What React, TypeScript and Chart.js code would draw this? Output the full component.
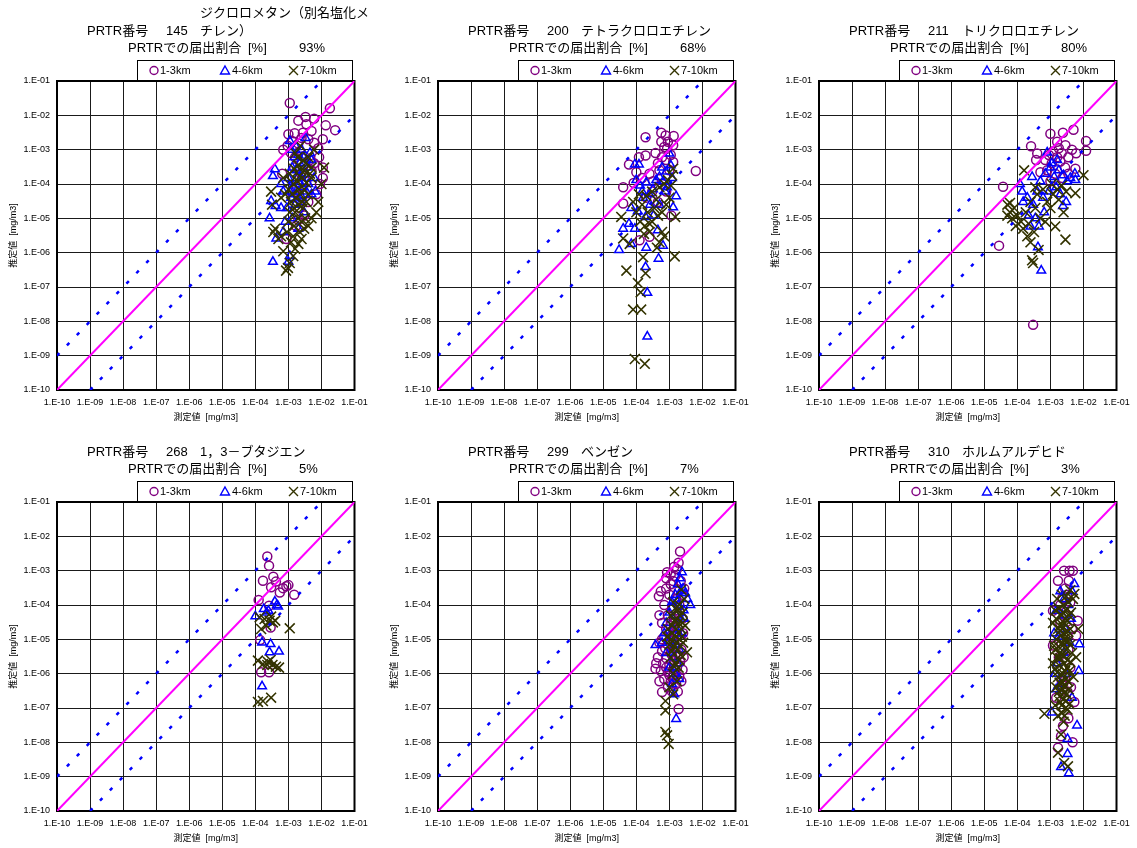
import React, { useEffect, useRef } from "react";
import { Chart, registerables } from "chart.js";

Chart.register(...registerables);

type Pt = [number, number];

// ---- axes ----
const AXIS_MIN = 1e-10;
const AXIS_MAX = 1e-1;
const TICK_VALUES = [1e-10, 1e-9, 1e-8, 1e-7, 1e-6, 1e-5, 1e-4, 1e-3, 1e-2, 1e-1];
const TICK_LABELS = ["1.E-10", "1.E-09", "1.E-08", "1.E-07", "1.E-06", "1.E-05", "1.E-04", "1.E-03", "1.E-02", "1.E-01"];
const X_TITLE = "測定値  [mg/m3]";
const Y_TITLE = "推定値  [mg/m3]";

// ---- reference lines: y = x, y = 10x, y = x/10 ----
const LINE_EQUAL: Pt[] = [[1e-10, 1e-10], [1e-1, 1e-1]];
const LINE_TIMES_10: Pt[] = [[1e-10, 1e-9], [1e-2, 1e-1]];
const LINE_TENTH: Pt[] = [[1e-9, 1e-10], [1e-1, 1e-2]];

// ---- panel headings ----
const SERIES_LABELS = ["1-3km", "4-6km", "7-10km"];
const PRTR_NUMBERS = ["145", "200", "211", "268", "299", "310"];
const SUBSTANCE_NAMES = [
  "ジクロロメタン（別名塩化メチレン）",
  "テトラクロロエチレン",
  "トリクロロエチレン",
  "1，3－ブタジエン",
  "ベンゼン",
  "ホルムアルデヒド",
];
const REPORT_SHARES = ["93%", "68%", "80%", "5%", "7%", "3%"];

// ---- 145 ジクロロメタン: [measured, estimated] mg/m3 ----
const DCM_1_3: Pt[] = [
  [1.1e-3, 2.3e-2], [1.8e-2, 1.6e-2], [2e-3, 7e-3], [3.3e-3, 9e-3], [6e-3, 8e-3], [1.35e-2, 5.1e-3],
  [2.6e-2, 3.7e-3], [3.5e-3, 5.5e-3], [5e-3, 3.5e-3], [1e-3, 2.8e-3], [1.55e-3, 3e-3], [2.75e-3, 3.1e-3],
  [1.1e-2, 2e-3], [1.1e-2, 3e-4], [1.1e-2, 1.5e-4], [7e-3, 5e-5], [9.5e-4, 1.3e-3], [7e-4, 1e-3],
  [1.3e-3, 1.8e-3], [2e-3, 1.5e-3], [2.5e-3, 2.2e-3], [4e-3, 2e-3], [6e-3, 1.6e-3], [8e-3, 1.1e-3],
  [1.2e-3, 8e-4], [1.6e-3, 6e-4], [2.2e-3, 9e-4], [3e-3, 6.5e-4], [4.5e-3, 5e-4], [6e-3, 4e-4],
  [8.5e-3, 6e-4], [1.5e-3, 3e-4], [2.4e-3, 2e-4], [3.5e-3, 1.2e-4], [5e-3, 2.5e-4], [1.8e-3, 8e-5],
  [2.8e-3, 5e-5], [4e-3, 3e-5], [1.3e-3, 4e-5], [2.2e-3, 2e-5], [3e-3, 1.2e-5], [2e-3, 9e-6],
  [1.7e-3, 6e-6], [8.7e-4, 2.5e-6], [6.5e-4, 2e-4], [9e-3, 1e-4],
];
const DCM_4_6: Pt[] = [
  [1.1e-3, 1.8e-3], [3.3e-3, 2.2e-3], [3.9e-4, 2.7e-4], [3.4e-4, 1.7e-4], [3e-4, 3.2e-5], [4.1e-4, 2.3e-5],
  [2.7e-4, 1e-5], [4.3e-4, 2.6e-6], [3.4e-4, 5.4e-7], [1.1e-3, 8e-7], [1e-3, 5.4e-7], [6e-4, 1e-4],
  [7e-4, 6e-5], [6e-3, 1.5e-4], [6.5e-3, 6e-5], [5e-3, 5e-5], [2.5e-3, 1.5e-4], [1.2e-3, 1e-3],
  [1.5e-3, 6e-4], [2e-3, 7e-4], [2.5e-3, 1e-3], [3e-3, 4e-4], [1.3e-3, 3e-4], [1.8e-3, 2.5e-4],
  [2.2e-3, 4e-4], [3.8e-3, 3e-4], [4.5e-3, 8e-4], [1e-3, 1.5e-4], [1.4e-3, 9e-5], [2e-3, 6e-5],
  [2.7e-3, 8e-5], [3.2e-3, 2e-4], [1.2e-3, 4e-5], [1.6e-3, 2.5e-5], [2.4e-3, 3e-5], [3e-3, 1.5e-5],
  [9e-4, 2e-5], [8e-4, 8e-6], [1.3e-3, 1e-5], [2e-3, 5e-6], [6e-4, 2e-5], [7e-4, 4e-6],
  [5e-3, 5e-4], [4e-3, 1e-4], [1.8e-3, 1.5e-4], [2.6e-3, 4e-5], [1.5e-3, 5e-5], [3.5e-3, 6e-5],
  [2.2e-3, 1e-4], [1.7e-3, 1.2e-3], [2.9e-3, 6e-4], [1.1e-3, 6e-5],
];
const DCM_7_10: Pt[] = [
  [9.7e-4, 3.6e-7], [8.5e-4, 3e-7], [1.1e-3, 5e-7], [1.4e-3, 8e-7], [1.6e-3, 1.3e-6], [7e-4, 1.1e-6],
  [5e-4, 2.5e-6], [3.5e-4, 4e-6], [4e-4, 5e-6], [6e-4, 3e-6], [3.2e-4, 2.5e-5], [3e-4, 6e-5],
  [1.2e-2, 3e-4], [1e-2, 1e-4], [8e-3, 3e-5], [7e-3, 1.5e-5], [5e-3, 1e-5], [4e-3, 6e-6],
  [2.5e-3, 2.5e-6], [2e-3, 1.8e-6], [1.2e-3, 2e-6], [9e-4, 4e-6], [1e-3, 8e-6], [1.5e-3, 6e-6],
  [2e-3, 1e-5], [2.5e-3, 8e-6], [3e-3, 5e-6], [1.1e-3, 1.5e-5], [1.5e-3, 2e-5], [2e-3, 2.5e-5],
  [2.8e-3, 2e-5], [3.5e-3, 3e-5], [1.2e-3, 3e-5], [1.7e-3, 4e-5], [2.3e-3, 5e-5], [3e-3, 7e-5],
  [4e-3, 5e-5], [8e-4, 5e-5], [1e-3, 7e-5], [1.4e-3, 1e-4], [1.9e-3, 1.2e-4], [2.6e-3, 1.5e-4],
  [3.5e-3, 1.1e-4], [5e-3, 1.5e-4], [1.1e-3, 2e-4], [1.5e-3, 2.8e-4], [2e-3, 3.5e-4], [2.8e-3, 5e-4],
  [4e-3, 6e-4], [6e-3, 1e-3], [1.6e-3, 8e-4], [5e-3, 3e-4], [7e-4, 1.5e-4], [6e-4, 4e-5],
  [2.3e-3, 1.3e-3], [1.3e-3, 5e-5], [2.1e-3, 7e-5], [2.6e-3, 3e-5], [1.6e-3, 1.5e-5], [3.2e-3, 1e-5],
  [1.8e-3, 2.2e-4], [2.4e-3, 2.5e-4], [3.3e-3, 4e-4], [1.2e-3, 1.2e-4], [2.2e-3, 1.7e-4], [3e-3, 2.5e-4],
  [1.9e-3, 6e-4], [4.5e-3, 2e-4], [1.4e-3, 3e-6], [2.2e-3, 4e-6],
];

// ---- 200 テトラクロロエチレン ----
const PCE_1_3: Pt[] = [
  [1.9e-4, 2.3e-3], [5.7e-4, 3.1e-3], [7.7e-4, 2.6e-3], [1.35e-3, 2.5e-3], [5.7e-4, 1.7e-3], [1.3e-3, 1.35e-3],
  [8.5e-4, 1.07e-3], [1.9e-4, 6.8e-4], [6e-5, 3.7e-4], [8.3e-5, 1.07e-4], [4e-5, 8e-5], [4e-5, 2.7e-5],
  [6.3e-3, 2.4e-4], [1.3e-3, 4.4e-4], [1.15e-3, 1.2e-5], [2.5e-4, 2.9e-6], [1.25e-4, 2.3e-6], [6e-4, 6e-4],
  [4.5e-4, 4e-4], [8e-4, 5e-4], [1.1e-3, 7e-4], [5e-4, 2.5e-4], [2.5e-4, 2e-4], [3.2e-4, 1.2e-4],
  [6e-4, 1e-4], [8e-4, 6e-5], [1e-4, 2.2e-4], [1.5e-4, 1.5e-4], [3e-4, 6e-5], [2e-4, 4e-5],
  [4.5e-4, 3e-5], [1e-3, 2.5e-4], [1.2e-4, 6e-4], [3.8e-4, 8e-4], [7e-4, 1.2e-3], [9e-4, 1.7e-3],
];
const PCE_4_6: Pt[] = [
  [9e-5, 3.7e-4], [1.2e-4, 3.7e-4], [1e-3, 7.7e-4], [1.6e-3, 4.4e-5], [1.3e-3, 2.1e-5], [4e-5, 5e-6],
  [3e-5, 1.2e-6], [4.5e-4, 4.5e-6], [6.4e-4, 1.6e-6], [4.7e-4, 6.7e-7], [2e-4, 1.4e-6], [1.9e-4, 3.8e-7],
  [2.15e-4, 6.8e-8], [2.15e-4, 3.6e-9], [7e-5, 1.8e-6], [1e-4, 1.3e-4], [1.3e-4, 9e-5], [2e-4, 1.1e-4],
  [4e-4, 1.3e-4], [5e-4, 1.6e-4], [6.5e-4, 1.2e-4], [3.2e-4, 7e-5], [1.6e-4, 4e-5], [2.6e-4, 2.5e-5],
  [7e-5, 2e-5], [1.1e-4, 1.6e-5], [1.9e-4, 1.1e-5], [6e-5, 7e-6], [9e-5, 5e-6], [3.3e-4, 1.2e-5],
  [5e-4, 2.5e-5], [7.5e-4, 6e-5], [8.5e-4, 8e-5], [1.2e-3, 1.5e-4], [8e-4, 2.3e-4], [1.1e-3, 3.5e-4],
  [6e-4, 3e-4], [1.5e-4, 6e-5], [2.5e-4, 5e-5],
];
const PCE_7_10: Pt[] = [
  [5e-5, 3e-7], [1.12e-4, 1.3e-7], [1.35e-4, 7e-8], [8e-5, 2.2e-8], [1.4e-4, 2.2e-8], [9e-5, 8e-10],
  [1.8e-4, 5.8e-10], [1.9e-4, 2.5e-7], [1.6e-4, 7.4e-7], [1.45e-3, 7.8e-7], [6.3e-5, 1.8e-6], [3.5e-5, 1.1e-5],
  [4e-5, 2.6e-6], [5e-4, 2e-6], [4.2e-4, 1.4e-6], [6e-4, 4e-6], [7e-4, 3e-6], [1.3e-3, 2.8e-4],
  [1.2e-3, 1.8e-4], [1.5e-3, 1.1e-5], [8e-5, 3e-5], [1e-4, 1.5e-5], [1.3e-4, 8e-6], [1.8e-4, 6e-6],
  [2.5e-4, 4e-6], [3e-4, 8e-6], [2.2e-4, 1.5e-5], [1.5e-4, 2.5e-5], [3.5e-4, 2e-5], [4.5e-4, 1.2e-5],
  [6e-4, 1.5e-5], [8e-4, 2.5e-5], [1e-3, 4e-5], [2e-4, 4.5e-5], [3e-4, 6e-5], [5e-4, 8e-5],
  [7e-4, 1e-4], [9e-4, 1.3e-4], [1.1e-3, 9e-5], [4e-4, 3.5e-5], [1.2e-4, 5e-5], [1.7e-4, 3.5e-6],
  [2.5e-4, 7e-6],
];

// ---- 211 トリクロロエチレン ----
const TCE_1_3: Pt[] = [
  [5e-3, 3.8e-3], [2.4e-3, 3.1e-3], [1e-3, 2.9e-3], [1.6e-3, 1.7e-3], [2.85e-3, 1.35e-3], [1.2e-2, 1.8e-3],
  [1.2e-2, 9.3e-4], [6e-3, 7.8e-4], [2.6e-4, 1.26e-3], [4e-4, 7.7e-4], [3.7e-4, 5e-4], [3.7e-5, 8.3e-5],
  [2.8e-5, 1.6e-6], [3e-4, 7.9e-9], [5.7e-3, 2.8e-4], [9e-4, 7e-4], [1.2e-3, 9e-4], [1.8e-3, 1.1e-3],
  [2.2e-3, 8e-4], [1.6e-3, 6e-4], [7e-4, 5e-4], [1.1e-3, 4e-4], [2e-3, 4.5e-4], [2.8e-3, 3e-4],
  [8e-4, 2.5e-4], [1.4e-3, 2e-4], [2.3e-3, 1.5e-4], [3.5e-3, 2e-4], [5e-4, 2.2e-4], [1e-3, 1.2e-4],
  [3.5e-3, 6e-4], [4.5e-3, 1e-3],
];
const TCE_4_6: Pt[] = [
  [8e-4, 8.3e-4], [5.7e-3, 1.3e-4], [5.5e-3, 2e-4], [2.4e-3, 2.3e-5], [4.2e-4, 1.45e-6], [5.3e-4, 3e-7],
  [2.5e-4, 5.8e-6], [4.5e-4, 5.8e-6], [1.2e-4, 1e-4], [1.4e-4, 6e-5], [2.8e-4, 1.6e-4], [5e-4, 1.2e-4],
  [7e-4, 2e-4], [1e-3, 3e-4], [1.3e-3, 1.6e-4], [1.8e-3, 2.5e-4], [2.5e-3, 1.8e-4], [3.2e-3, 1.2e-4],
  [4e-3, 1.5e-4], [1.5e-4, 3e-5], [3e-4, 2.5e-5], [6e-4, 4e-5], [9e-4, 6e-5], [1.5e-3, 8e-5],
  [2e-3, 5e-5], [3e-3, 3e-5], [2.2e-4, 1.2e-5], [3.5e-4, 1e-5], [6.5e-4, 1.5e-5], [1.1e-3, 4e-4],
  [1.6e-3, 5e-4], [2e-4, 4e-5], [4e-4, 6e-5],
];
const TCE_7_10: Pt[] = [
  [1e-2, 1.8e-4], [5.7e-3, 5.4e-5], [2.85e-3, 2.4e-6], [1.6e-4, 2.5e-4], [5e-5, 2.5e-5], [6e-5, 1.5e-5],
  [8e-5, 2e-5], [1e-4, 1.2e-5], [1.3e-4, 8e-6], [7e-5, 1e-5], [9e-5, 6e-6], [1.5e-4, 5e-6],
  [2.8e-4, 6e-7], [3e-4, 5e-7], [4.4e-4, 1.2e-6], [1.4e-3, 5.8e-6], [2e-4, 3e-6], [2.5e-4, 2e-6],
  [1.8e-4, 1.5e-5], [2.5e-4, 3e-5], [3.5e-4, 2e-5], [5e-4, 1e-5], [7e-4, 8e-6], [1e-3, 2e-5],
  [4e-4, 5e-5], [6e-4, 7e-5], [8e-4, 3e-5], [1.2e-3, 5e-5], [1.6e-3, 7e-5], [2.2e-3, 9e-5],
  [3e-3, 6e-5], [1.8e-3, 3.5e-5], [2.5e-3, 1.5e-5], [1.1e-3, 1e-4], [3.5e-4, 8e-5], [5e-5, 1.2e-5],
  [6e-5, 2.8e-5], [2.2e-4, 7e-6], [3.2e-4, 4e-6],
];

// ---- 268 1,3-ブタジエン ----
const BD_1_3: Pt[] = [
  [2.3e-4, 2.6e-3], [2.6e-4, 1.4e-3], [1.7e-4, 5.1e-4], [3.5e-4, 6.7e-4], [4.2e-4, 4.8e-4], [3e-4, 3.3e-4],
  [5.5e-4, 2.3e-4], [6.9e-4, 3.1e-4], [8.7e-4, 3.5e-4], [1e-3, 3.8e-4], [1.5e-3, 2e-4], [1.26e-4, 1.4e-4],
  [2.6e-4, 9.5e-5], [2.9e-4, 2.2e-5], [1.4e-4, 9.5e-6], [1.5e-4, 1.1e-6], [2.6e-4, 1.1e-6],
];
const BD_4_6: Pt[] = [
  [3.9e-4, 1.26e-4], [4.9e-4, 9.1e-5], [1.8e-4, 7.6e-5], [2.5e-4, 6.8e-5], [1e-4, 4.7e-5], [1.6e-4, 8.1e-6],
  [2.9e-4, 7.3e-6], [2.7e-4, 4.2e-6], [5.2e-4, 4.4e-6], [1.6e-4, 4.3e-7], [4.5e-4, 1e-4], [2.2e-4, 6e-5],
];
const BD_7_10: Pt[] = [
  [1.35e-4, 4.4e-5], [1.9e-4, 3.9e-5], [2.7e-4, 3.5e-5], [3.4e-4, 3.1e-5], [2.15e-4, 2.5e-5], [1.5e-4, 2e-5],
  [3e-4, 4.6e-5], [1.1e-3, 2.1e-5], [1.2e-4, 2.4e-6], [1.7e-4, 1.9e-6], [2.4e-4, 2.2e-6], [3.3e-4, 1.8e-6],
  [4.2e-4, 1.6e-6], [5.2e-4, 1.5e-6], [2.9e-4, 2.5e-6], [1.2e-4, 1.5e-7], [1.7e-4, 1.6e-7], [3e-4, 2e-7],
  [4e-4, 3.5e-5], [2.3e-4, 1.8e-6],
];

// ---- 299 ベンゼン ----
const BZ_1_3: Pt[] = [
  [2.1e-3, 3.6e-3], [1.9e-3, 1.7e-3], [8.5e-4, 9e-4], [1.1e-3, 8e-4], [1.5e-3, 7e-4], [1.3e-3, 5e-4],
  [2.2e-3, 5e-4], [4.8e-4, 1.8e-4], [5.5e-4, 2.5e-4], [8e-4, 3e-4], [1e-3, 2e-4], [1.6e-3, 1.5e-4],
  [2.5e-3, 2e-4], [7e-4, 1e-4], [1.2e-3, 8e-5], [2e-3, 6e-5], [9e-4, 5e-5], [1.5e-3, 4e-5],
  [6e-4, 3e-5], [1.1e-3, 2.5e-5], [1.8e-3, 2e-5], [2.6e-3, 1.5e-5], [7e-4, 1.2e-5], [1.3e-3, 1e-5],
  [5e-4, 8e-6], [9e-4, 7e-6], [1.6e-3, 6e-6], [2.3e-3, 5e-6], [6e-4, 4.5e-6], [1.1e-3, 4e-6],
  [1.9e-3, 3.5e-6], [4.5e-4, 3e-6], [8e-4, 2.8e-6], [1.4e-3, 2.5e-6], [2.1e-3, 2.2e-6], [3.8e-4, 1.4e-6],
  [6.5e-4, 2e-6], [1e-3, 1.8e-6], [1.7e-3, 1.5e-6], [2.5e-3, 1.3e-6], [5.5e-4, 1.2e-6], [9e-4, 1.1e-6],
  [1.3e-3, 9e-7], [2e-3, 8e-7], [7e-4, 7e-7], [1.1e-3, 6e-7], [1.6e-3, 5e-7], [6e-4, 2.9e-7],
  [9e-4, 4e-7], [1.2e-3, 3e-7], [1.9e-3, 9.3e-8], [1e-3, 1.6e-5], [1.4e-3, 3e-5], [2e-3, 1e-4],
  [8e-4, 6e-4], [1.7e-3, 1.1e-3], [1.4e-3, 1.3e-3], [2.8e-3, 3e-4], [1.2e-3, 3.5e-6], [7.5e-4, 5.5e-6],
  [5e-4, 5e-5], [8e-4, 2e-5], [1.5e-3, 1.5e-5], [2.2e-3, 1e-5], [6e-4, 1e-5], [1.2e-3, 5.5e-6],
  [2.7e-3, 3e-6], [4e-4, 2e-6], [1.5e-3, 1.2e-6], [2.3e-3, 6e-7], [8e-4, 1.5e-6], [1.4e-3, 7e-7],
  [5e-4, 6e-7], [1e-3, 9e-7], [1.8e-3, 3e-7], [2.5e-3, 4e-5], [1.9e-3, 2.5e-4], [1.1e-3, 4e-4],
];
const BZ_4_6: Pt[] = [
  [2.4e-3, 9e-4], [2.1e-3, 6e-4], [1.8e-3, 4e-4], [2.6e-3, 3e-4], [4.3e-3, 1e-4], [3.5e-3, 1.5e-4],
  [3e-3, 2.2e-4], [1.5e-3, 2e-4], [1.2e-3, 1.2e-4], [1.9e-3, 1e-4], [2.7e-3, 7e-5], [1e-3, 6e-5],
  [1.6e-3, 5e-5], [2.2e-3, 4e-5], [8e-4, 3e-5], [1.3e-3, 2e-5], [1.9e-3, 1.5e-5], [3.8e-4, 6.8e-6],
  [6e-4, 8e-6], [1e-3, 9e-6], [1.5e-3, 7e-6], [2e-3, 5e-6], [8e-4, 4e-6], [1.3e-3, 3e-6],
  [1.8e-3, 2e-6], [1e-3, 1.5e-6], [1.5e-3, 1e-6], [2e-3, 7e-7], [1.2e-3, 5e-7], [1.6e-3, 4.8e-8],
  [1.4e-3, 2.5e-7], [2.4e-3, 1.5e-5], [2.8e-3, 4e-5], [7e-4, 1.5e-5], [1.7e-3, 1.3e-4], [2.2e-3, 2.5e-4],
];
const BZ_7_10: Pt[] = [
  [7.6e-4, 1.6e-7], [7.6e-4, 8.5e-8], [7.6e-4, 2e-8], [8.5e-4, 1.6e-8], [9.5e-4, 9e-9], [3e-3, 2.5e-5],
  [3.4e-3, 4.2e-6], [2.5e-3, 6e-5], [2e-3, 1e-4], [2.8e-3, 1.5e-4], [1.5e-3, 8e-5], [1.1e-3, 5e-5],
  [1.4e-3, 3.5e-5], [1.9e-3, 3e-5], [2.3e-3, 2e-5], [9e-4, 2e-5], [1.2e-3, 1.5e-5], [1.6e-3, 1.2e-5],
  [2e-3, 1e-5], [2.6e-3, 8e-6], [1e-3, 7e-6], [1.4e-3, 6e-6], [1.8e-3, 5e-6], [2.2e-3, 3.5e-6],
  [1.1e-3, 3e-6], [1.5e-3, 2e-6], [1.9e-3, 1.5e-6], [1.3e-3, 1e-6], [1.7e-3, 6e-7], [1e-3, 4e-7],
  [1.3e-3, 2.5e-7], [8.5e-4, 1.2e-5], [1.2e-3, 2.5e-5], [1.7e-3, 4e-5], [2.1e-3, 5e-5], [1.6e-3, 2e-5],
  [1.1e-3, 1e-5], [2.4e-3, 1.2e-5], [1.3e-3, 1.2e-4], [1.8e-3, 7e-5], [2.3e-3, 2.8e-4], [1.7e-3, 8e-6],
  [1.2e-3, 4.5e-6], [2e-3, 2.5e-6], [2.5e-3, 3e-5], [1.4e-3, 1.6e-6],
];

// ---- 310 ホルムアルデヒド ----
const HCHO_1_3: Pt[] = [
  [2.6e-3, 1e-3], [3.8e-3, 1e-3], [4.8e-3, 1e-3], [1.7e-3, 5.1e-4], [3.6e-3, 5.1e-4], [2.3e-3, 1.6e-4],
  [1.2e-3, 6.8e-5], [6.7e-3, 3.5e-5], [6e-3, 1.3e-5], [1.2e-3, 6.6e-6], [5.3e-3, 1.5e-7], [2.1e-3, 1.5e-8],
  [1.7e-3, 7e-9], [4.7e-3, 1e-8], [2.8e-3, 3e-4], [3.2e-3, 2e-4], [2e-3, 1e-4], [4e-3, 1.2e-4],
  [3e-3, 5e-5], [2e-3, 3e-5], [4.5e-3, 2e-5], [2.5e-3, 1e-5], [3.5e-3, 5e-6], [1.8e-3, 3e-6],
  [4e-3, 1.5e-6], [2.8e-3, 8e-7], [3.3e-3, 3e-7], [2.2e-3, 6e-7], [4.2e-3, 4e-7], [1.5e-3, 2e-7],
  [3.5e-3, 5e-8], [2.4e-3, 3e-8],
];
const HCHO_4_6: Pt[] = [
  [5.3e-3, 4.1e-4], [1.5e-3, 6.8e-5], [7.5e-3, 7.2e-6], [7.2e-3, 1.2e-6], [1.5e-3, 3.5e-7], [1.1e-3, 7.4e-8],
  [6.4e-3, 3.1e-8], [3.3e-3, 1.26e-8], [3.3e-3, 4.6e-9], [2.1e-3, 1.9e-9], [3.6e-3, 1.26e-9], [2.6e-3, 1.5e-4],
  [3.5e-3, 1e-4], [2.3e-3, 5e-5], [4.2e-3, 4e-5], [2.8e-3, 2e-5], [1.8e-3, 1.2e-5], [3.8e-3, 8e-6],
  [2.5e-3, 4e-6], [1.6e-3, 2e-6], [3e-3, 1e-6], [2e-3, 5e-7], [4.5e-3, 2e-7], [1.4e-3, 1e-6],
  [4.5e-3, 2.5e-4], [2e-3, 2.5e-4], [1.3e-3, 1.5e-5],
];
const HCHO_7_10: Pt[] = [
  [5.3e-3, 2.1e-4], [6.6e-4, 6.8e-8], [2.1e-3, 1.7e-8], [1.7e-3, 5e-9], [2.6e-3, 2.5e-9], [3.4e-3, 2e-9],
  [4.8e-3, 1.5e-4], [3.5e-3, 1.2e-4], [2.5e-3, 1e-4], [1.8e-3, 8e-5], [3e-3, 7e-5], [4.2e-3, 6e-5],
  [2.2e-3, 5e-5], [1.5e-3, 4e-5], [3.3e-3, 3.5e-5], [2.6e-3, 3e-5], [1.9e-3, 2.5e-5], [4e-3, 2e-5],
  [2.9e-3, 1.6e-5], [2.1e-3, 1.3e-5], [1.5e-3, 1e-5], [3.5e-3, 9e-6], [2.5e-3, 7e-6], [1.8e-3, 6e-6],
  [3e-3, 5e-6], [4.5e-3, 4e-6], [2.2e-3, 3.5e-6], [1.6e-3, 3e-6], [3.3e-3, 2.5e-6], [2.7e-3, 2e-6],
  [1.9e-3, 1.7e-6], [1.4e-3, 1.4e-6], [3.8e-3, 1.2e-6], [2.4e-3, 1e-6], [1.7e-3, 8e-7], [3e-3, 7e-7],
  [2.1e-3, 5e-7], [1.5e-3, 4e-7], [3.6e-3, 3.5e-7], [2.6e-3, 2.8e-7], [1.9e-3, 2.2e-7], [2.9e-3, 1.6e-7],
  [2.2e-3, 1.2e-7], [3.3e-3, 9e-8], [1.7e-3, 6e-8], [2.5e-3, 4e-8], [7e-3, 2e-5], [6e-3, 3e-6],
  [5e-3, 8e-7], [1.2e-3, 3e-5], [1.2e-3, 2e-6], [2.8e-3, 4e-5], [2e-3, 1.8e-5], [3.1e-3, 1.2e-5],
  [2.3e-3, 8e-6], [2e-3, 2.8e-6], [3.2e-3, 1.5e-6], [2.2e-3, 6e-7], [2.8e-3, 4.5e-7], [1.8e-3, 3e-7],
  [2.5e-3, 1.8e-7], [1.4e-3, 1.2e-7], [2.7e-3, 6e-8], [1.3e-3, 6.5e-6], [4e-3, 2.7e-4],
  [1.6e-3, 1.5e-4], [2.2e-3, 2e-4], [3e-3, 1.8e-4], [1.4e-3, 7e-5], [2.4e-3, 6e-5], [3.6e-3, 5e-5],
  [1.7e-3, 2e-5], [2.5e-3, 2.2e-5], [3.4e-3, 1.7e-5], [1.4e-3, 5e-6], [2.8e-3, 9e-6], [4e-3, 7e-6],
  [1.9e-3, 4e-6], [2.6e-3, 3.3e-6], [4e-3, 2.2e-6], [1.6e-3, 1.1e-6], [2.8e-3, 1.2e-6], [3.4e-3, 6e-7],
  [1.9e-3, 5.5e-7], [2.4e-3, 3.5e-7], [3.1e-3, 2.5e-7], [2e-3, 1.5e-7], [3.8e-3, 1.3e-7], [2.9e-3, 1e-7],
  [2.2e-3, 7e-8],
];

const PANEL_SERIES: Pt[][][] = [
  [DCM_1_3, DCM_4_6, DCM_7_10],
  [PCE_1_3, PCE_4_6, PCE_7_10],
  [TCE_1_3, TCE_4_6, TCE_7_10],
  [BD_1_3, BD_4_6, BD_7_10],
  [BZ_1_3, BZ_4_6, BZ_7_10],
  [HCHO_1_3, HCHO_4_6, HCHO_7_10],
];

// ---- styling ----
const FONT = '"Liberation Sans", "Noto Sans CJK JP", sans-serif';
const COLOR_NEAR = "#800080";
const COLOR_MID = "#0000FF";
const COLOR_FAR = "#333300";
const CANVAS_W = 381;
const CANVAS_H = 424;
const ROW_STEP = 421;

const toXY = (pts: Pt[]) => pts.map(([x, y]) => ({ x, y }));

function wrapChars(ctx: CanvasRenderingContext2D, text: string, maxWidth: number): string[] {
  const lines: string[] = [];
  let cur = "";
  for (const ch of Array.from(text)) {
    if (cur && ctx.measureText(cur + ch).width > maxWidth) {
      lines.push(cur);
      cur = ch;
    } else {
      cur += ch;
    }
  }
  if (cur) lines.push(cur);
  return lines;
}

// plot frame, drawn over the grid and under the markers
const framePlugin = {
  id: "plotFrame",
  beforeDatasetsDraw(chart: any) {
    const { ctx, chartArea } = chart;
    const { left, top, right, bottom } = chartArea;
    ctx.save();
    ctx.strokeStyle = "#000";
    ctx.lineWidth = 2;
    ctx.strokeRect(left, top, right - left, bottom - top);
    ctx.restore();
  },
};

function headerPlugin(i: number) {
  return {
    id: "panelHeader",
    afterDraw(chart: any) {
      const ctx: CanvasRenderingContext2D = chart.ctx;
      ctx.save();
      ctx.fillStyle = "#000";
      ctx.textAlign = "left";
      ctx.textBaseline = "middle";
      ctx.font = `13px ${FONT}`;
      const rowY = 31;
      ctx.fillText("PRTR番号", 87, rowY);
      ctx.fillText(PRTR_NUMBERS[i], 166, rowY);
      const nameLines = wrapChars(ctx, SUBSTANCE_NAMES[i], 170);
      nameLines.forEach((ln, k) => {
        ctx.fillText(ln, 200, rowY - (nameLines.length - 1 - k) * 17.5);
      });
      ctx.fillText("PRTRでの届出割合", 128, 48);
      ctx.fillText("[%]", 248, 48);
      ctx.fillText(REPORT_SHARES[i], 299, 48);

      // legend box
      ctx.fillStyle = "#fff";
      ctx.fillRect(137.5, 60.5, 215, 20);
      ctx.strokeStyle = "#000";
      ctx.lineWidth = 1;
      ctx.strokeRect(137.5, 60.5, 215, 20);
      const ly = 70.5;
      ctx.lineWidth = 1.4;
      // circle
      ctx.strokeStyle = COLOR_NEAR;
      ctx.beginPath();
      ctx.arc(154, ly, 4, 0, Math.PI * 2);
      ctx.stroke();
      // triangle
      ctx.strokeStyle = COLOR_MID;
      ctx.beginPath();
      ctx.moveTo(225, ly - 4.5);
      ctx.lineTo(229.5, ly + 3.5);
      ctx.lineTo(220.5, ly + 3.5);
      ctx.closePath();
      ctx.stroke();
      // cross
      ctx.strokeStyle = COLOR_FAR;
      ctx.beginPath();
      ctx.moveTo(289, ly - 4.5);
      ctx.lineTo(298, ly + 4.5);
      ctx.moveTo(298, ly - 4.5);
      ctx.lineTo(289, ly + 4.5);
      ctx.stroke();

      ctx.fillStyle = "#000";
      ctx.font = `11px ${FONT}`;
      ctx.fillText(SERIES_LABELS[0], 160, ly);
      ctx.fillText(SERIES_LABELS[1], 232, ly);
      ctx.fillText(SERIES_LABELS[2], 300, ly);
      ctx.restore();
    },
  };
}

function logAxis(kind: "x" | "y") {
  return {
    type: "logarithmic" as const,
    position: kind === "x" ? "bottom" : "left",
    min: AXIS_MIN,
    max: AXIS_MAX,
    afterBuildTicks: (scale: any) => {
      scale.ticks = TICK_VALUES.map((v) => ({ value: v }));
    },
    afterFit: (scale: any) => {
      if (kind === "x") scale.height = CANVAS_H - 390;
      else scale.width = 57;
    },
    ticks: {
      autoSkip: false,
      maxRotation: 0,
      minRotation: 0,
      padding: 7,
      color: "#000",
      font: { family: FONT, size: 9 },
      callback: (_v: any, idx: number) => TICK_LABELS[idx],
    },
    grid: { color: "#1a1a1a", lineWidth: 1, drawTicks: false },
    border: { display: false },
    title: {
      display: true,
      text: kind === "x" ? X_TITLE : Y_TITLE,
      color: "#000",
      font: { family: FONT, size: 9 },
      padding: kind === "x" ? { top: 0, bottom: 1 } : { top: 8, bottom: 0 },
    },
  };
}

function buildConfig(i: number): any {
  const [near, mid, far] = PANEL_SERIES[i];
  const refLine = (pts: Pt[], color: string, width: number, dash: number[]) => ({
    data: toXY(pts),
    showLine: true,
    borderColor: color,
    borderWidth: width,
    borderDash: dash,
    pointRadius: 0,
    fill: false,
  });
  const markers = (label: string, pts: Pt[], style: string, radius: number, color: string, width: number) => ({
    label,
    data: toXY(pts),
    pointStyle: style,
    pointRadius: radius,
    borderColor: color,
    backgroundColor: "rgba(0,0,0,0)",
    borderWidth: width,
    showLine: false,
  });
  return {
    type: "scatter",
    data: {
      // first dataset is painted last (on top)
      datasets: [
        refLine(LINE_EQUAL, "#FF00FF", 2, []),
        refLine(LINE_TIMES_10, "#0000FF", 2.5, [3.5, 10.8]),
        refLine(LINE_TENTH, "#0000FF", 2.5, [3.5, 10.8]),
        markers(SERIES_LABELS[2], far, "crossRot", 7, COLOR_FAR, 1.6),
        markers(SERIES_LABELS[1], mid, "triangle", 5, COLOR_MID, 1.5),
        markers(SERIES_LABELS[0], near, "circle", 4.5, COLOR_NEAR, 1.5),
      ],
    },
    options: {
      responsive: false,
      maintainAspectRatio: false,
      animation: false,
      devicePixelRatio: 1,
      events: [],
      layout: { padding: { top: 81, right: 26.5, left: 0, bottom: 0 } },
      plugins: { legend: { display: false }, tooltip: { enabled: false }, title: { display: false } },
      scales: { x: logAxis("x"), y: logAxis("y") },
    },
    plugins: [framePlugin, headerPlugin(i)],
  };
}

function Panel({ index }: { index: number }) {
  const ref = useRef<HTMLCanvasElement>(null);
  useEffect(() => {
    const canvas = ref.current;
    if (!canvas) return;
    const chart = new Chart(canvas, buildConfig(index));
    return () => chart.destroy();
  }, [index]);
  const col = index % 3;
  const row = Math.floor(index / 3);
  return (
    <canvas
      ref={ref}
      width={CANVAS_W}
      height={CANVAS_H}
      style={{
        position: "absolute",
        left: col * CANVAS_W,
        top: row * ROW_STEP,
        width: CANVAS_W,
        height: CANVAS_H,
        display: "block",
      }}
    />
  );
}

export default function App() {
  return (
    <div
      style={{
        position: "absolute",
        left: 0,
        top: 0,
        width: 1137,
        height: 848,
        overflow: "hidden",
        background: "#fff",
      }}
    >
      {PRTR_NUMBERS.map((_, i) => (
        <Panel key={i} index={i} />
      ))}
    </div>
  );
}
